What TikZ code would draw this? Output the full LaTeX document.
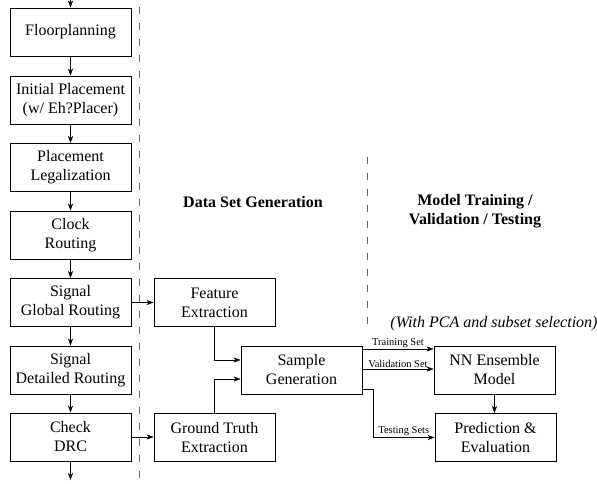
\documentclass[tikz,border=0pt]{standalone}
\usepackage{fontspec}
\setmainfont{Liberation Serif}
\usetikzlibrary{arrows.meta}
\begin{document}
\begin{tikzpicture}[x=1pt,y=-1pt,>={Stealth[length=7pt,width=5pt]},
  blk/.style={draw,line width=0.9pt,minimum width=121pt,minimum height=48pt,inner sep=0pt,align=center,font=\fontsize{16}{19}\selectfont},
  lbl/.style={font=\fontsize{10.5}{12}\selectfont,inner sep=1.5pt},
  sep/.style={gray!80!black,line width=0.8pt,dash pattern=on 7pt off 9pt}]
\useasboundingbox (0,0) rectangle (597,484);
\draw [sep] (139.5,7)--(139.5,484);
\draw [sep] (367,157)--(367,330);
\node (fp) at (70.5,32) [blk] {Floorplanning};
\node (ip) at (70.5,100) [blk] {Initial Placement\\(w/ Eh?Placer)};
\node (pl) at (70.5,167.5) [blk] {Placement\\Legalization};
\node (cr) at (70.5,235) [blk] {Clock\\Routing};
\node (gr) at (70.5,302.5) [blk] {Signal\\Global Routing};
\node (dr) at (70.5,370) [blk] {Signal\\Detailed Routing};
\node (drc) at (70.5,437) [blk] {Check\\DRC};
\node (fe) at (214.5,302.5) [blk] {Feature\\Extraction};
\node (gt) at (214.5,437.5) [blk] {Ground Truth\\Extraction};
\node (sg) at (301.5,370) [blk] {Sample\\Generation};
\node (nn) at (494.5,370) [blk] {NN Ensemble\\Model};
\node (pe) at (495.5,437.5) [blk] {Prediction \&\\Evaluation};
\node (dsg) at (253,202) [font=\fontsize{16}{19}\selectfont\bfseries] {Data Set Generation};
\node (mtv) at (475,211) [align=center,font=\fontsize{16}{19}\selectfont\bfseries] {Model Training /\\Validation / Testing};
\node (pca) at (494,324) [font=\fontsize{16}{19}\selectfont\itshape] {(With PCA and subset selection)};
\coordinate (top) at (70.5,0);
\coordinate (bot) at (70.5,480);
\draw [->] (top)--(fp);
\draw [->] (fp)--(ip);
\draw [->] (ip)--(pl);
\draw [->] (pl)--(cr);
\draw [->] (cr)--(gr);
\draw [->] (gr)--(dr);
\draw [->] (dr)--(drc);
\draw [->] (drc)--(bot);
\draw [->] (gr)--(fe);
\draw [->] (drc.east)--(drc.east-|gt.west);
\draw [->] (fe.south)|-([yshift=10pt]sg.west);
\draw [->] (gt.north)|-([yshift=-9pt]sg.west);
\draw [->] ([yshift=21pt]sg.east)--([yshift=21pt]nn.west) node [midway,above,lbl] {Training Set};
\draw [->] ([yshift=1pt]sg.east)--([yshift=1pt]nn.west) node [midway,above,lbl] {Validation Set};
\draw [->] ([yshift=-19pt]sg.east)-|(373,437.5)--(pe.west) node [midway,above,lbl] {Testing Sets};
\draw [->] (nn)--(nn|-pe.north);
\end{tikzpicture}
\end{document}
